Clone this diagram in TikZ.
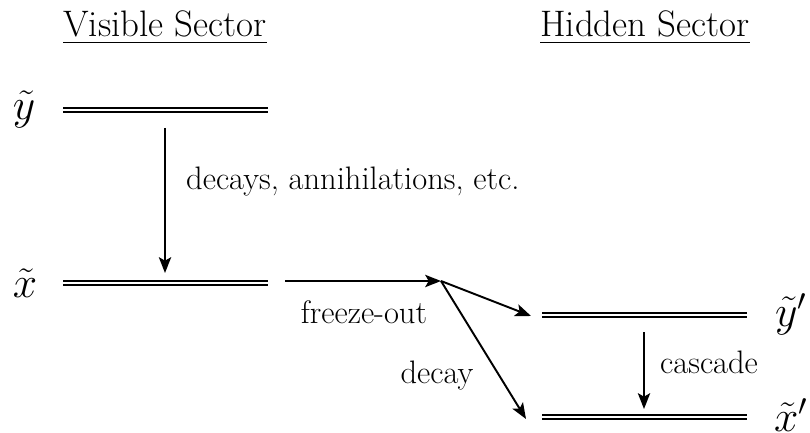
\documentclass[tikz,border=0pt]{standalone}
\usepackage{amsmath,amssymb}
\usepackage{tikz}
\usetikzlibrary{positioning,arrows.meta,calc}

\begin{document}
\begin{tikzpicture}[
    x=0.02cm, y=-0.02cm,
    font=\fontsize{18.5}{22}\selectfont,
    level/.style={
        draw,
        line width=1.2pt,
        double,
        double distance=1.3pt
    },
    trans/.style={
        line width=1.1pt,
        -{Stealth[length=9pt,width=7pt,inset=2pt]}
    },
    title/.style={anchor=base, font=\fontsize{21}{25}\selectfont},
    state/.style={anchor=base, font=\fontsize{24}{28}\selectfont}
]
\useasboundingbox (0,0) rectangle (810,432);

% sector titles
\node[title] (vis) at (165,37) {\underline{Visible Sector}};
\node[title] (hid) at (645,37) {\underline{Hidden Sector}};

% visible levels
\node[state] (ylab) at (24,120) {$\tilde{y}$};
\node[state] (xlab) at (25,297) {$\tilde{x}$};
\coordinate (y1) at (63,110);
\coordinate (y2) at (268,110);
\coordinate (x1) at (63,283);
\coordinate (x2) at (268,283);
\draw[level] (y1) -- (y2);
\draw[level] (x1) -- (x2);

% hidden levels
\node[state] (yplab) at (791,326) {$\tilde{y}'$};
\node[state] (xplab) at (791,431) {$\tilde{x}'$};
\coordinate (yp1) at (542,315);
\coordinate (yp2) at (747,315);
\coordinate (xp1) at (542,417);
\coordinate (xp2) at (747,417);
\draw[level] (yp1) -- (yp2);
\draw[level] (xp1) -- (xp2);

% transitions
\coordinate (ann0) at (165,128);
\coordinate (ann1) at (165,273);
\coordinate (fo0) at (285,281);
\coordinate (fo1) at (441,281);
\coordinate (toyp) at (531,316);
\coordinate (toxp) at (526,419);
\coordinate (cas0) at (644,332);
\coordinate (cas1) at (644,409);
\draw[trans] (ann0) -- (ann1);
\draw[trans] (fo0) -- (fo1);
\draw[trans] (fo1) -- (toyp);
\draw[trans] (fo1) -- (toxp);
\draw[trans] (cas0) -- (cas1);

\node[anchor=base west] (annlab) at (180,190) {decays, annihilations, etc.};
\node[anchor=base] (folab) at (364,323) {freeze-out};
\node[anchor=base] (declab) at (437,383) {decay};
\node[anchor=base west] (caslab) at (654,373) {cascade};

\end{tikzpicture}
\end{document}
